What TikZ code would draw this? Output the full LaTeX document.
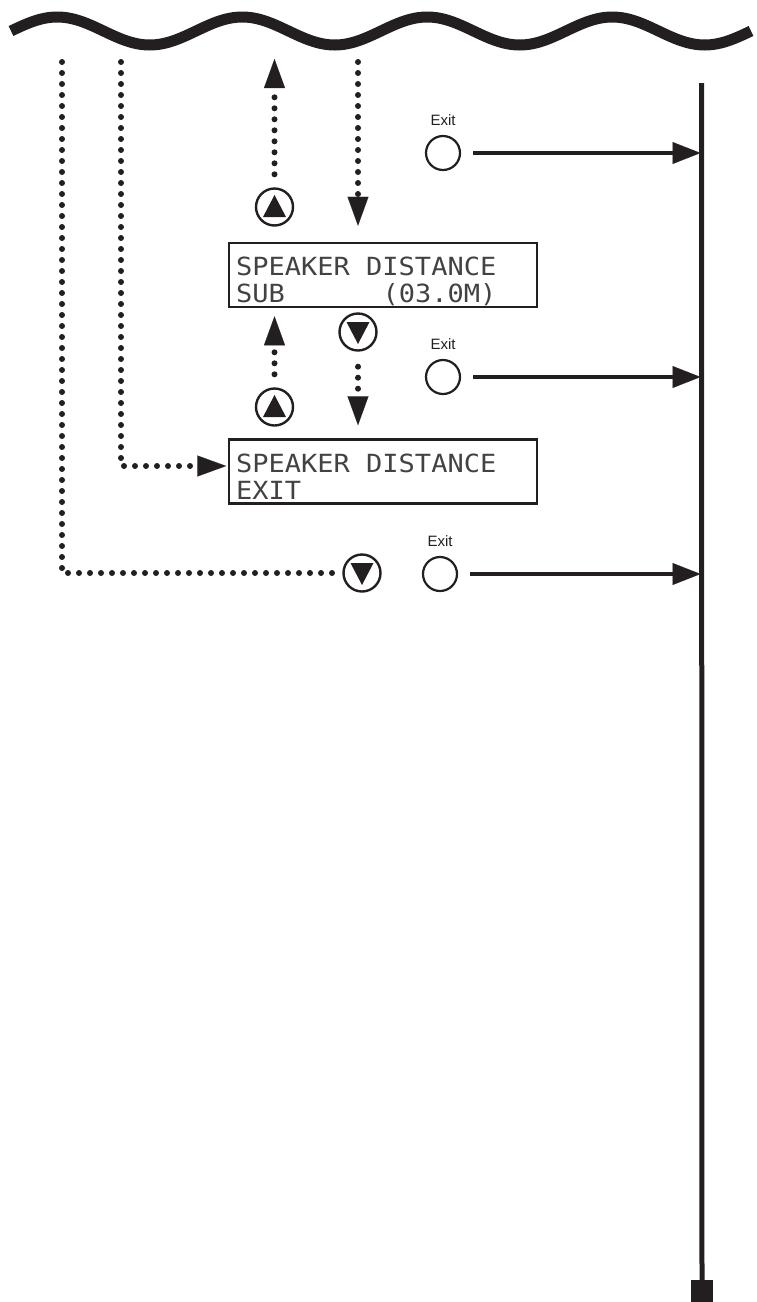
\documentclass[tikz,border=0pt]{standalone}
\usepackage{fontspec}
\setmainfont{Liberation Sans}
\newfontfamily\lcdfont[FakeStretch=1.08]{DejaVu Sans Mono}
\usetikzlibrary{arrows.meta}
\definecolor{ink}{HTML}{231F20}
\begin{document}
\begin{tikzpicture}[x=1pt,y=-1pt,
  wave/.style={draw=ink,line width=11pt},
  dots/.style={draw=ink,line width=6pt,line cap=round,dash pattern=on 0pt off 11pt},
  dtip/.style={-{Triangle[length=29pt,width=21pt,line width=0.1pt]}},
  exitarrow/.style={draw=ink,line width=4.5pt,-{Triangle[length=28pt,width=22pt,line width=0.1pt]},shorten <=12pt,shorten >=1pt},
  lcdbox/.style={draw=ink,line width=2.5pt,rectangle,minimum width=308pt,minimum height=64pt,inner sep=0pt},
  lcd/.style={font=\lcdfont\fontsize{25}{27}\selectfont,text=ink!85,inner sep=0pt,anchor=base west},
  exitbtn/.style={circle,draw=ink,line width=2.2pt,minimum size=34pt,inner sep=0pt},
  exitlabel/.style={font=\fontsize{15}{15}\selectfont,text=ink,inner sep=0pt},
  upbtn/.style={circle,draw=ink,line width=2.4pt,minimum size=37pt,inner sep=0pt,
    path picture={\fill[ink] ([yshift=12pt]path picture bounding box.center) -- ++(-11.5pt,-22pt) -- ++(23pt,0pt) -- cycle;}},
  downbtn/.style={circle,draw=ink,line width=2.4pt,minimum size=37pt,inner sep=0pt,
    path picture={\fill[ink] ([yshift=-12pt]path picture bounding box.center) -- ++(-11.5pt,22pt) -- ++(23pt,0pt) -- cycle;}},
  endsq/.style={fill=ink,minimum size=22pt,inner sep=0pt,rectangle}
]
\useasboundingbox (0,0) rectangle (757,1302);

% wavy top edge
\draw[wave] (11,31) sin (57.25,17) cos (103.5,31) sin (149.75,45) cos (196,31)
  sin (242.25,17) cos (288.5,31) sin (334.75,45) cos (381,31)
  sin (427.25,17) cos (473.5,31) sin (519.75,45) cos (566,31)
  sin (612.25,17) cos (658.5,31) sin (704.75,45) cos (751,31);

% coordinates near the wave
\coordinate (L1) at (62,62);
\coordinate (L2) at (121,62);
\coordinate (a1) at (274.5,59);
\coordinate (a2) at (358,62);
\coordinate (spine) at (701.5,83);

% LCD boxes
\node[lcdbox] (b1) at (383,275) {};
\node[lcd] (t1a) at (236,275) {SPEAKER DISTANCE};
\node[lcd] (t1b) at (236,302) {SUB\phantom{SSSSSS}(03.0M)};
\node[lcdbox] (b2) at (383,471.5) {};
\node[lcd] (t2a) at (236,472) {SPEAKER DISTANCE};
\node[lcd] (t2b) at (236,499) {EXIT};

% buttons
\node[upbtn] (u1) at (274.5,207) {};
\node[upbtn] (u2) at (274.5,407) {};
\node[downbtn] (d1) at (358,332) {};
\node[downbtn] (d2) at (362,573) {};

% exit buttons
\node[exitlabel] (x1l) at (443,120) {Exit};
\node[exitbtn] (x1) at (443,153) {};
\node[exitlabel] (x2l) at (443,344) {Exit};
\node[exitbtn] (x2) at (443,377) {};
\node[exitlabel] (x3l) at (440,541) {Exit};
\node[exitbtn] (x3) at (440,574) {};

% right spine
\node[endsq] (sq) at (702,1291) {};
\draw[ink,line width=5pt] (spine) -- (sq.north);

% exit arrows
\draw[exitarrow] (x1) -- (x1 -| spine);
\draw[exitarrow] (x2) -- (x2 -| spine);
\draw[exitarrow] (x3) -- (x3 -| spine);

% dotted navigation
\draw[dots,dtip,shorten <=13pt] (u1) -- (a1);
\draw[dots,dtip,shorten >=16pt] (a2) -- (a2 |- b1.north);
\draw[dots,dtip,shorten <=13pt,shorten >=8pt] (u2) -- (u2 |- b1.south);
\draw[dots,dtip,shorten <=15pt,shorten >=13pt] (d1) -- (d1 |- b2.north);
\draw[dots,shorten >=8pt] (L1) |- (d2);
\draw[dots,dtip,shorten >=1.5pt] (L2) |- ([yshift=5.5pt]b2.west);
\end{tikzpicture}
\end{document}
